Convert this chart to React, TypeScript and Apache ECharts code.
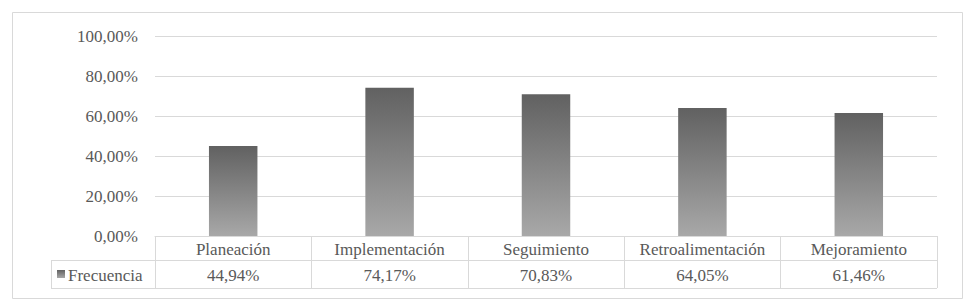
import React, { useEffect, useRef } from "react";
import * as echarts from "echarts";

const categories = ["Planeación", "Implementación", "Seguimiento", "Retroalimentación", "Mejoramiento"];
const frecuencia = [0.4494, 0.7417, 0.7083, 0.6405, 0.6146];
const yTicks = [0, 0.2, 0.4, 0.6, 0.8, 1];
const seriesName = "Frecuencia";

const fmt = (v: number) => (v * 100).toFixed(2).replace(".", ",") + "%";

const FONT = "Times New Roman";
const LINE = "#d9d9d9";
const TEXT = "#595959";

export default function App() {
  const ref = useRef<HTMLDivElement>(null);
  useEffect(() => {
    const chart = echarts.init(ref.current!, null, { renderer: "svg" });
    const gl = 155, gt = 36, gw = 782, gh = 200;
    const row1 = 24, row2 = 28;
    const headLeft = 51;
    const mkGrad = () =>
      new echarts.graphic.LinearGradient(0, 0, 0, 1, [
        { offset: 0, color: "#616161" },
        { offset: 1, color: "#a8a8a8" },
      ]);
    chart.setOption({
      animation: false,
      grid: { left: gl, top: gt, width: gw, height: gh, containLabel: false },
      xAxis: [
        {
          type: "category",
          data: categories,
          position: "bottom",
          axisLine: { show: true, lineStyle: { color: LINE, width: 1 } },
          axisTick: { show: true, interval: 0, length: row1 + row2, lineStyle: { color: LINE, width: 1 } },
          axisLabel: { show: false },
        },
        {
          type: "category",
          data: frecuencia.map(fmt),
          position: "bottom",
          offset: row1,
          axisLine: { show: true, lineStyle: { color: LINE, width: 1 } },
          axisTick: { show: false },
          axisLabel: { show: false },
        },
      ],
      yAxis: {
        type: "value",
        min: 0,
        max: 1,
        interval: 0.2,
        axisLine: { show: false },
        axisTick: { show: false },
        splitLine: { lineStyle: { color: LINE, width: 1 } },
        axisLabel: { show: false },
      },
      series: [
        {
          name: seriesName,
          type: "bar",
          xAxisIndex: 0,
          yAxisIndex: 0,
          data: frecuencia,
          barWidth: "31%",
          itemStyle: { color: mkGrad() },
        },
      ],
    });

    const txt = (text: string, x: number, y: number, align: string) => ({
      type: "text",
      x,
      y,
      silent: true,
      style: {
        text,
        fontFamily: FONT,
        fontSize: 17,
        fill: TEXT,
        align,
        verticalAlign: "middle",
      },
    });

    const row1Mid = gt + gh + row1 / 2;
    const row2Mid = gt + gh + row1 + row2 / 2;
    const elems: any[] = [
      {
        type: "rect",
        shape: { x: 12.5, y: 12.5, width: 950, height: 286 },
        style: { fill: "none", stroke: LINE, lineWidth: 1 },
        silent: true,
      },
      {
        type: "line",
        shape: { x1: headLeft, y1: gt + gh + row1 + 0.5, x2: gl, y2: gt + gh + row1 + 0.5 },
        style: { stroke: LINE, lineWidth: 1 },
      },
      {
        type: "line",
        shape: { x1: headLeft, y1: gt + gh + row1 + row2 + 0.5, x2: gl + gw, y2: gt + gh + row1 + row2 + 0.5 },
        style: { stroke: LINE, lineWidth: 1 },
      },
      {
        type: "line",
        shape: { x1: headLeft + 0.5, y1: gt + gh + row1, x2: headLeft + 0.5, y2: gt + gh + row1 + row2 },
        style: { stroke: LINE, lineWidth: 1 },
      },
      {
        type: "rect",
        shape: { x: 57, y: row2Mid - 4, width: 8, height: 8 },
        style: { fill: mkGrad() },
        silent: true,
      },
      txt(seriesName, 68, row2Mid + 1, "left"),
    ];
    yTicks.forEach((v) => {
      const p = chart.convertToPixel({ seriesIndex: 0 }, [0, v]) as number[];
      elems.push(txt(fmt(v), gl - 17, p[1], "right"));
    });
    categories.forEach((c, i) => {
      const p = chart.convertToPixel({ seriesIndex: 0 }, [i, 0]) as number[];
      elems.push(txt(c, p[0], row1Mid + 1, "center"));
      elems.push(txt(fmt(frecuencia[i]), p[0], row2Mid + 1, "center"));
    });
    chart.setOption({ graphic: elems });
    return () => chart.dispose();
  }, []);
  return <div ref={ref} style={{ position: "absolute", left: 0, top: 0, width: 969, height: 306 }} />;
}
